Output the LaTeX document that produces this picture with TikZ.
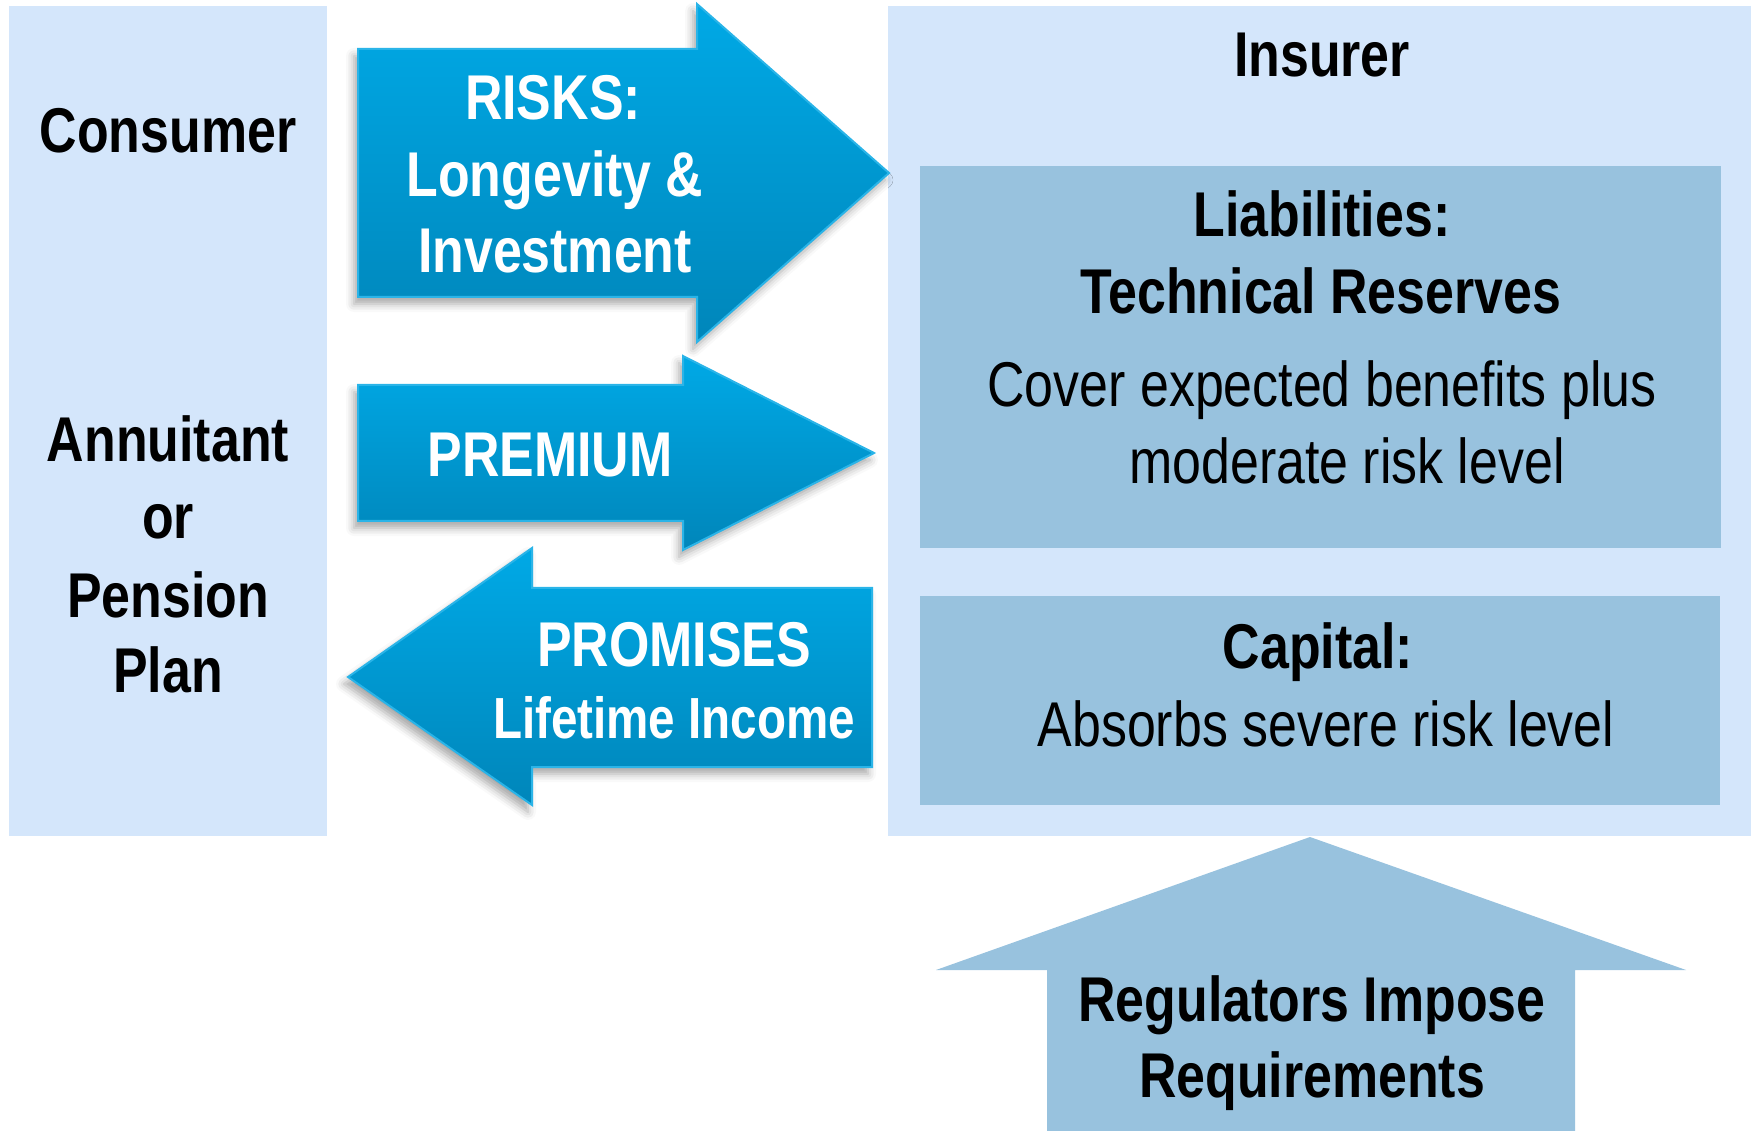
\documentclass[tikz,border=0pt]{standalone}
\usepackage{fontspec}
\setmainfont{Liberation Sans}[FakeStretch=0.82]
\usepackage{tikz}
\usetikzlibrary{shadows.blur}
\usepackage{xcolor}

\definecolor{panelblue}{HTML}{D4E6FB}
\definecolor{boxblue}{HTML}{98C2DE}
\definecolor{arrowtop}{HTML}{00A9E6}
\definecolor{arrowbottom}{HTML}{0086BA}
\definecolor{arrowedge}{HTML}{2AB4E8}

\tikzset{
  plain/.style={font=\fontsize{18}{22}\selectfont, anchor=base, inner sep=0pt},
  heavy/.style={font=\fontsize{18}{22}\selectfont\bfseries, anchor=base, inner sep=0pt},
  onarrow/.style={heavy, text=white},
  flow/.style={top color=arrowtop, bottom color=arrowbottom, draw=arrowedge, line width=0.2mm,
    line join=miter,
    blur shadow={shadow xshift=-0.4mm, shadow yshift=-0.7mm, shadow blur radius=0.8mm, shadow opacity=35}}
}

\begin{document}
\begin{tikzpicture}[x=0.1mm, y=-0.1mm]
      \useasboundingbox (0,0) rectangle (1756,1131);

      % Panels: consumer side and insurer side
      \fill[panelblue] (9,6) rectangle (327,836);
      \fill[panelblue] (888,6) rectangle (1751,836);

      % Boxes inside the insurer panel
      \fill[boxblue] (920,166) rectangle (1721,548);
      \fill[boxblue] (920,596) rectangle (1720,805);

      % Regulators push up from below
      \fill[boxblue] (1310,837) -- (1686,970) -- (1575,970) -- (1575,1131)
        -- (1047,1131) -- (1047,970) -- (936,970) -- cycle;

      % Flows between the two panels:
      % right going arrows first, then the one coming back
      \path[flow] (358,49) -- (697,49) -- (697,4) -- (889,173) -- (697,342)
        -- (697,297) -- (358,297) -- cycle;
      \path[flow] (358,385) -- (683,385) -- (683,356) -- (874,453) -- (683,550)
        -- (683,521) -- (358,521) -- cycle;
      \path[flow] (872,588) -- (532,588) -- (532,548) -- (348,677) -- (532,805)
        -- (532,767) -- (872,767) -- cycle;

      % Left panel labels
      \node[heavy] (consumer) at (168,153) {Consumer};
      \foreach \word/\y [count=\i] in {Annuitant/462, or/539, Pension/617, Plan/692}
        \node[heavy] (annuitant-\i) at (168,\y) {\word};

      % Arrow labels
      \node[onarrow] (risks)     at (553,120) {RISKS:};
      \node[onarrow] (longevity) at (555,197) {Longevity \&};
      \node[onarrow] (invest)    at (555,273) {Investment};
      \node[onarrow] (premium)   at (550,477) {PREMIUM};
      \node[onarrow] (promises)  at (674,667) {PROMISES};
      \node[onarrow, font=\fontsize{16.5}{20}\selectfont\bfseries] (income) at (674,738) {Lifetime Income};

      % Insurer labels
      \node[heavy] (insurer)   at (1322,77)  {Insurer};
      \node[heavy] (liab)      at (1322,237) {Liabilities:};
      \node[heavy] (reserves)  at (1321,314) {Technical Reserves};
      \node[plain] (cover)     at (1322,407) {Cover expected benefits plus};
      \node[plain] (moderate)  at (1347,484) {moderate risk level};
      \node[heavy] (capital)   at (1318,669) {Capital:};
      \node[plain] (absorbs)   at (1326,746) {Absorbs severe risk level};

      % Regulators label
      \node[heavy] (regulators)   at (1312,1021) {Regulators Impose};
      \node[heavy] (requirements) at (1312,1097) {Requirements};
    \end{tikzpicture}
\end{document}
